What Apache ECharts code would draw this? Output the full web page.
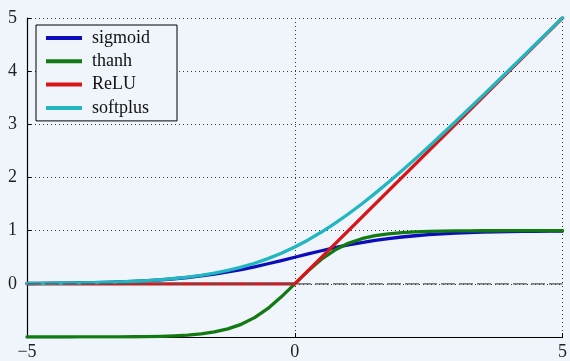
<!DOCTYPE html>
<html><head><meta charset="utf-8">
<script src="https://cdn.jsdelivr.net/npm/echarts@6/dist/echarts.min.js"></script>
<style>html,body{margin:0;padding:0;background:#eff5fb}#c{width:570px;height:361px}</style>
</head><body><div id="c"></div>
<script>
const xs = [-5,-4.75,-4.5,-4.25,-4,-3.75,-3.5,-3.25,-3,-2.75,-2.5,-2.25,-2,-1.75,-1.5,-1.25,-1,-0.75,-0.5,-0.25,0,0.25,0.5,0.75,1,1.25,1.5,1.75,2,2.25,2.5,2.75,3,3.25,3.5,3.75,4,4.25,4.5,4.75,5];
const sigmoidVals = [0.0067,0.0086,0.0110,0.0141,0.0180,0.0230,0.0293,0.0373,0.0474,0.0601,0.0759,0.0953,0.1192,0.1480,0.1824,0.2227,0.2689,0.3208,0.3775,0.4378,0.5,0.5622,0.6225,0.6792,0.7311,0.7773,0.8176,0.8520,0.8808,0.9047,0.9241,0.9399,0.9526,0.9627,0.9707,0.9770,0.9820,0.9859,0.9890,0.9914,0.9933];
const tanhVals = [-0.9999,-0.9999,-0.9998,-0.9996,-0.9993,-0.9989,-0.9982,-0.9970,-0.9951,-0.9919,-0.9866,-0.9780,-0.9640,-0.9414,-0.9051,-0.8483,-0.7616,-0.6351,-0.4621,-0.2449,0,0.2449,0.4621,0.6351,0.7616,0.8483,0.9051,0.9414,0.9640,0.9780,0.9866,0.9919,0.9951,0.9970,0.9982,0.9989,0.9993,0.9996,0.9998,0.9999,0.9999];
const softplusVals = [0.0067,0.0086,0.0111,0.0142,0.0182,0.0233,0.0298,0.0380,0.0486,0.0620,0.0789,0.1002,0.1269,0.1602,0.2014,0.2519,0.3133,0.3869,0.4741,0.5760,0.6931,0.8260,0.9741,1.1369,1.3133,1.5019,1.7014,1.9102,2.1269,2.3502,2.5789,2.8120,3.0486,3.2880,3.5298,3.7733,4.0181,4.2642,4.5110,4.7586,5.0067];
const reluX = [-5,0,5];
const reluVals = [0,0,5];
const xTicks = [-5,0,5];
const yTicks = [-1,0,1,2,3,4,5];
const names = ['sigmoid','thanh','ReLU','softplus'];
const colors = ['#0c0cbc','#127a12','#d8161a','#22b6c0'];

const pairs = (x,y)=>x.map((v,i)=>[v,y[i]]);
const font = "'Liberation Serif','Times New Roman',serif";
const chart = echarts.init(document.getElementById('c'));
const lineS = (name, data, color)=>({
  name, type:'line', data, showSymbol:false, smooth:false,
  lineStyle:{color, width:3.3, join:'round', cap:'round'}, itemStyle:{color}, z:3
});
chart.setOption({
  animation:false,
  backgroundColor:'#eff5fb',
  textStyle:{fontFamily:font},
  grid:{left:27, right:5, top:18, bottom:21, containLabel:false},
  legend:{
    orient:'vertical', left:36, top:25, data:names,
    icon:'rect', itemWidth:36, itemHeight:4, itemGap:5.3,
    padding:[4,27,4,10], borderColor:'#000', borderWidth:1, borderRadius:0,
    backgroundColor:'#eff5fb',
    textStyle:{fontFamily:font, fontSize:18, color:'#111', lineHeight:18, padding:[0,0,0,5]}
  },
  xAxis:{
    type:'value', min:-5, max:5, interval:5,
    axisLine:{show:true, onZero:false, lineStyle:{color:'#000', width:1.2}},
    axisTick:{show:true, inside:true, length:4, lineStyle:{color:'#000'}},
    axisLabel:{fontFamily:font, fontSize:18, color:'#222', margin:6,
      formatter:v=> xTicks.includes(v) ? String(v).replace('-','\u2212') : ''},
    splitLine:{show:true, lineStyle:{color:'#333', type:[1,3], width:1}}
  },
  yAxis:{
    type:'value', min:-1, max:5, interval:1,
    axisLine:{show:true, onZero:false, lineStyle:{color:'#000', width:1.2}},
    axisTick:{show:true, inside:true, length:4, lineStyle:{color:'#000'}},
    axisLabel:{fontFamily:font, fontSize:18, color:'#222', margin:10,
      formatter:v=> (yTicks.includes(v) && v>=0) ? String(v) : ''},
    splitLine:{show:true, lineStyle:{color:'#333', type:[1,3], width:1}}
  },
  series:[
    lineS(names[0], pairs(xs,sigmoidVals), colors[0]),
    lineS(names[1], pairs(xs,tanhVals), colors[1]),
    lineS(names[2], pairs(reluX,reluVals), colors[2]),
    lineS(names[3], pairs(xs,softplusVals), colors[3]),
    {name:'zero', type:'line', data:[[-5,0],[5,0]], showSymbol:false, z:4,
     lineStyle:{color:'#555', width:1.2, type:[14,4]}, silent:true}
  ]
});
</script></body></html>
